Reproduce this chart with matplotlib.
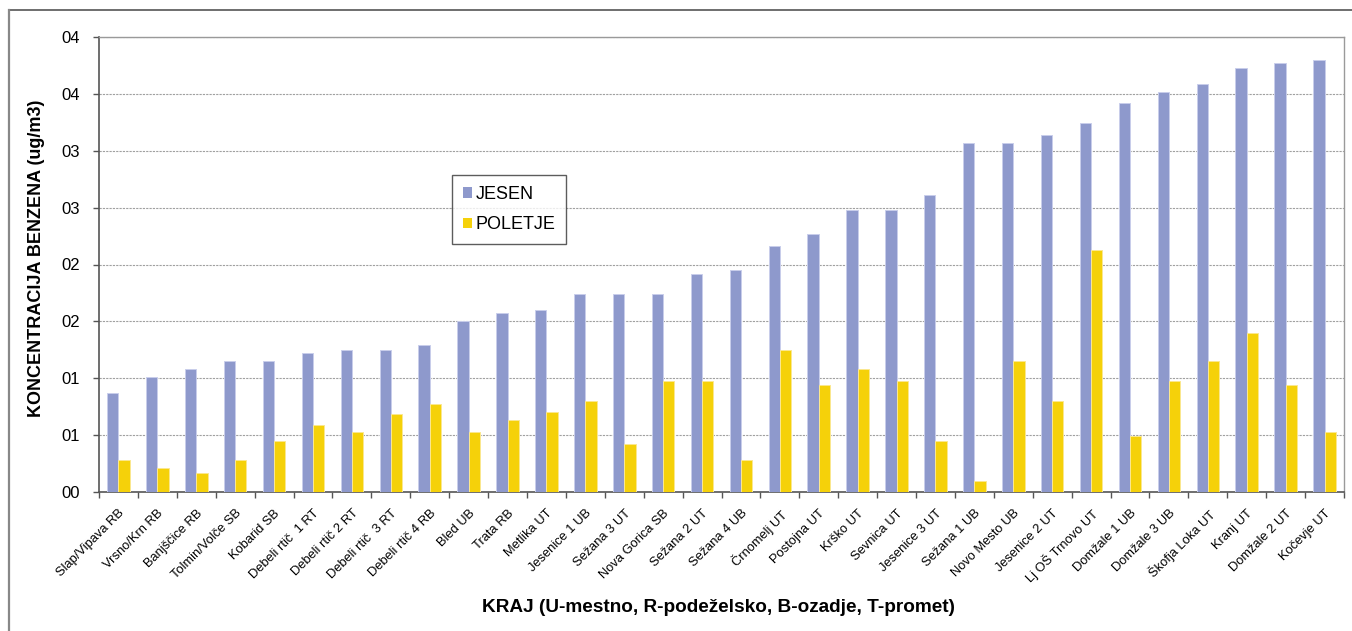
import matplotlib
matplotlib.use("Agg")
import matplotlib.pyplot as plt
from matplotlib.patches import Patch
from matplotlib.lines import Line2D
import numpy as np

plt.rcParams['font.family'] = ['Liberation Sans', 'DejaVu Sans']

# Measuring sites (U-urban, R-rural, B-background, T-traffic)
sites = [
    "Slap/Vipava RB", "Vrsno/Krn RB", "Banjščice RB", "Tolmin/Volče SB",
    "Kobarid SB", "Debeli rtič  1 RT", "Debeli rtič 2 RT", "Debeli rtič  3 RT",
    "Debeli rtič 4 RB", "Bled UB", "Trata RB", "Metlika UT", "Jesenice 1 UB",
    "Sežana 3 UT", "Nova Gorica SB", "Sežana 2 UT", "Sežana 4 UB",
    "Črnomelj UT", "Postojna UT", "Krško UT", "Sevnica UT", "Jesenice 3 UT",
    "Sežana 1 UB", "Novo Mesto UB", "Jesenice 2 UT", "Lj OŠ Trnovo UT",
    "Domžale 1 UB", "Domžale 3 UB", "Škofja Loka UT", "Kranj UT",
    "Domžale 2 UT", "Kočevje UT",
]

# Benzene concentration, autumn campaign
jesen = [
    0.87, 1.01, 1.08, 1.15, 1.15, 1.22, 1.25, 1.25, 1.29, 1.50, 1.57, 1.60,
    1.74, 1.74, 1.74, 1.92, 1.95, 2.16, 2.27, 2.48, 2.48, 2.61, 3.07, 3.07,
    3.14, 3.24, 3.42, 3.52, 3.59, 3.73, 3.77, 3.80,
]

# Benzene concentration, summer campaign
poletje = [
    0.28, 0.21, 0.17, 0.28, 0.45, 0.59, 0.53, 0.69, 0.77, 0.53, 0.63, 0.70,
    0.80, 0.42, 0.98, 0.98, 0.28, 1.25, 0.94, 1.08, 0.98, 0.45, 0.10, 1.15,
    0.80, 2.13, 0.49, 0.98, 1.15, 1.40, 0.94, 0.53,
]

y_ticks = [0.0, 0.5, 1.0, 1.5, 2.0, 2.5, 3.0, 3.5, 4.0]
y_tick_labels = ["00", "01", "01", "02", "02", "03", "03", "04", "04"]

W, H = 1352, 631
fig = plt.figure(figsize=(W / 100, H / 100), dpi=100)
fig.patch.set_facecolor("white")

# outer chart border (top and left edges)
fig.add_artist(Line2D([8.5 / W, 1.0], [1 - 9.5 / H, 1 - 9.5 / H],
                      transform=fig.transFigure, color="#555555", lw=1.2))
fig.add_artist(Line2D([8.5 / W, 8.5 / W], [0.0, 1 - 9.5 / H],
                      transform=fig.transFigure, color="#888888", lw=1.6))

left, right, bottom, top = 99 / W, 1344 / W, 1 - 492 / H, 1 - 37 / H
ax = fig.add_axes([left, bottom, right - left, top - bottom])

x = np.arange(len(sites))
bw = 0.29
c_j, c_p = "#8E99CC", "#F5D10A"
ax.bar(x - bw / 2, jesen, width=bw, color=c_j, edgecolor="#C9CEEB",
       linewidth=0.7, zorder=3, label="JESEN")
ax.bar(x + bw / 2, poletje, width=bw, color=c_p, edgecolor="#FBE890",
       linewidth=0.7, zorder=3, label="POLETJE")

ax.set_xlim(-0.5, len(sites) - 0.5)
ax.set_ylim(0, 4.0)

ax.set_yticks(y_ticks)
ax.set_yticklabels(y_tick_labels, fontsize=12)
ax.tick_params(axis="y", direction="out", length=4, width=1, color="#555555",
               pad=9.5)
ax.yaxis.grid(True, color="#a0a0a0", linestyle=(0, (2, 1)), linewidth=0.8,
              zorder=0)

ax.set_xticks(x)
ax.set_xticklabels(sites, rotation=45, ha="right", rotation_mode="anchor",
                   fontsize=9.3)
ax.tick_params(axis="x", which="major", length=0, pad=11)
ax.set_xticks(np.arange(len(sites) + 1) - 0.5, minor=True)
ax.tick_params(axis="x", which="minor", direction="out", length=4, width=1,
               color="#555555")

for s in ("left", "bottom"):
    ax.spines[s].set_color("#555555")
    ax.spines[s].set_linewidth(1.2)
for s in ("top", "right"):
    ax.spines[s].set_color("#9a9a9a")
    ax.spines[s].set_linewidth(1.0)

handles = [Patch(facecolor=c_j, edgecolor="none", label="JESEN"),
           Patch(facecolor=c_p, edgecolor="none", label="POLETJE")]
leg = ax.legend(handles=handles, loc="upper left",
                bbox_to_anchor=((452 - 99) / 1245, 1 - (175 - 37) / 455),
                fontsize=13, frameon=True, fancybox=False, edgecolor="#333333",
                handlelength=0.5, handleheight=0.5, handletextpad=0.2,
                labelspacing=0.75, borderpad=0.6, borderaxespad=0)
leg.get_frame().set_linewidth(1.0)
leg.set_zorder(5)

fig.text(37 / W, 1 - 258 / H, "KONCENTRACIJA BENZENA (ug/m3)", rotation=90,
         ha="center", va="center", fontsize=13, fontweight="bold")
fig.text(719 / W, 1 - 608 / H,
         "KRAJ (U-mestno, R-podeželsko, B-ozadje, T-promet)",
         ha="center", va="center", fontsize=13.7, fontweight="bold")

fig.savefig("out.png", dpi=100)
